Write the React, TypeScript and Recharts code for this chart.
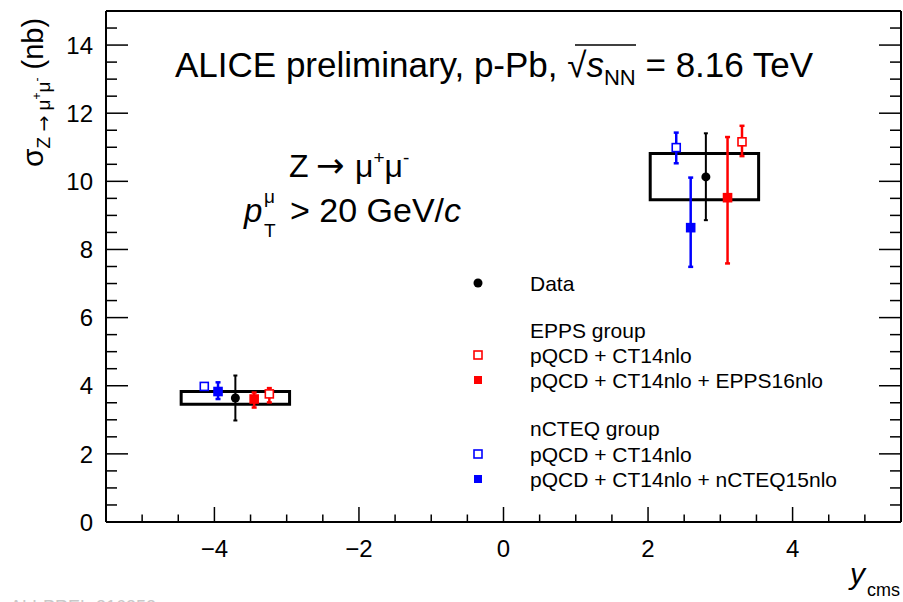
import React from "react";
import { ComposedChart, Scatter, ErrorBar, XAxis, YAxis, ReferenceArea } from "recharts";

const W = 903;
const H = 602;
const FONT = "'Liberation Sans', Arial, Helvetica, sans-serif";
const ARROW_FONT = "'DejaVu Sans', sans-serif";

// rapidity ranges of the two measurements (backward, forward)
const yLow = [-4.46, 2.03];
const yHigh = [-2.96, 3.53];
// systematic uncertainty boxes
const sysLow = [3.46, 9.46];
const sysHigh = [3.83, 10.82];

// measured cross sections
const dataX = [-3.71, 2.8];
const dataVal = [3.64, 10.13];
const dataLo = [2.98, 8.86];
const dataHi = [4.3, 11.41];

// EPPS group: pQCD + CT14nlo
const eppsFreeX = [-3.24, 3.3];
const eppsFreeVal = [3.76, 11.16];
const eppsFreeLo = [3.51, 10.74];
const eppsFreeHi = [3.93, 11.63];

// EPPS group: pQCD + CT14nlo + EPPS16nlo
const epps16X = [-3.45, 3.1];
const epps16Val = [3.61, 9.52];
const epps16Lo = [3.36, 7.59];
const epps16Hi = [3.8, 11.3];

// nCTEQ group: pQCD + CT14nlo
const ncteqFreeX = [-4.14, 2.39];
const ncteqFreeVal = [3.98, 10.99];
const ncteqFreeLo = [3.9, 10.53];
const ncteqFreeHi = [4.06, 11.43];

// nCTEQ group: pQCD + CT14nlo + nCTEQ15nlo
const ncteq15X = [-3.95, 2.59];
const ncteq15Val = [3.83, 8.64];
const ncteq15Lo = [3.61, 7.49];
const ncteq15Hi = [4.1, 10.11];

const xTicks = [-5, -4.5, -4, -3.5, -3, -2.5, -2, -1.5, -1, -0.5, 0, 0.5, 1, 1.5, 2, 2.5, 3, 3.5, 4, 4.5, 5];
const xLabels = [-4, -2, 0, 2, 4];
const yTicks = [0, 0.5, 1, 1.5, 2, 2.5, 3, 3.5, 4, 4.5, 5, 5.5, 6, 6.5, 7, 7.5, 8, 8.5, 9, 9.5, 10, 10.5, 11, 11.5, 12, 12.5, 13, 13.5, 14, 14.5];
const yLabels = [0, 2, 4, 6, 8, 10, 12, 14];

function rows(xs: number[], vals: number[], lo: number[], hi: number[]) {
  return xs.map((x, i) => ({ x, y: vals[i], err: [vals[i] - lo[i], hi[i] - vals[i]] }));
}

const dataRows = rows(dataX, dataVal, dataLo, dataHi);
const eppsFreeRows = rows(eppsFreeX, eppsFreeVal, eppsFreeLo, eppsFreeHi);
const epps16Rows = rows(epps16X, epps16Val, epps16Lo, epps16Hi);
const ncteqFreeRows = rows(ncteqFreeX, ncteqFreeVal, ncteqFreeLo, ncteqFreeHi);
const ncteq15Rows = rows(ncteq15X, ncteq15Val, ncteq15Lo, ncteq15Hi);

const RED = "#ff0000";
const BLUE = "#0000ff";

const fmt = (v: number) => (v < 0 ? `\u2212${Math.abs(v)}` : `${v}`);

function BottomTick({ x, y, payload }: any) {
  const major = xLabels.includes(payload.value);
  return (
    <g>
      <line x1={x} y1={y} x2={x} y2={y - (major ? 15 : 7.5)} stroke="#000" strokeWidth={1.5} />
      {major && (
        <text x={x} y={y + 35} textAnchor="middle" fontSize={24} fontFamily={FONT} fill="#000">
          {fmt(payload.value)}
        </text>
      )}
    </g>
  );
}

function TopTick({ x, y, payload }: any) {
  const major = xLabels.includes(payload.value);
  return <line x1={x} y1={y} x2={x} y2={y + (major ? 15 : 7.5)} stroke="#000" strokeWidth={1.5} />;
}

function LeftTick({ x, y, payload }: any) {
  const major = yLabels.includes(payload.value);
  return (
    <g>
      <line x1={x} y1={y} x2={x + (major ? 22 : 11)} y2={y} stroke="#000" strokeWidth={1.5} />
      {major && (
        <text x={x - 13} y={y} dy="0.36em" textAnchor="end" fontSize={24} fontFamily={FONT} fill="#000">
          {payload.value}
        </text>
      )}
    </g>
  );
}

function RightTick({ x, y, payload }: any) {
  const major = yLabels.includes(payload.value);
  return <line x1={x} y1={y} x2={x - (major ? 22 : 11)} y2={y} stroke="#000" strokeWidth={1.5} />;
}

const square = (color: string, open: boolean) => (p: any) => (
  <rect
    x={p.cx - 4}
    y={p.cy - 4}
    width={8}
    height={8}
    fill={open ? "#fff" : color}
    stroke={color}
    strokeWidth={1.6}
  />
);

const dot = (p: any) => <circle cx={p.cx} cy={p.cy} r={4.5} fill="#000" />;

const legendRows = [
  { label: "Data", marker: "dot", color: "#000", y: 283 },
  { label: "EPPS group", marker: "", color: "", y: 330 },
  { label: "pQCD + CT14nlo", marker: "open", color: RED, y: 355 },
  { label: "pQCD + CT14nlo + EPPS16nlo", marker: "full", color: RED, y: 380 },
  { label: "nCTEQ group", marker: "", color: "", y: 428 },
  { label: "pQCD + CT14nlo", marker: "open", color: BLUE, y: 454 },
  { label: "pQCD + CT14nlo + nCTEQ15nlo", marker: "full", color: BLUE, y: 479 },
];

export default function App() {
  const axisLine = { stroke: "#000", strokeWidth: 2 };
  return (
    <div style={{ position: "absolute", left: 0, top: 0, width: W, height: H, background: "#fff" }}>
      <ComposedChart width={W} height={H} margin={{ top: 10, right: 1, bottom: 79, left: 105 }}>
        <XAxis
          xAxisId="b"
          type="number"
          dataKey="x"
          domain={[-5.5, 5.5]}
          allowDataOverflow
          ticks={xTicks}
          interval={0}
          height={1}
          tickSize={0}
          tickMargin={0}
          tickLine={false}
          axisLine={axisLine}
          tick={(p: any) => <BottomTick {...p} />}
        />
        <XAxis
          xAxisId="t"
          orientation="top"
          type="number"
          domain={[-5.5, 5.5]}
          allowDataOverflow
          ticks={xTicks}
          interval={0}
          height={1}
          tickSize={0}
          tickMargin={0}
          tickLine={false}
          axisLine={axisLine}
          tick={(p: any) => <TopTick {...p} />}
        />
        <YAxis
          yAxisId="l"
          type="number"
          dataKey="y"
          domain={[0, 15]}
          allowDataOverflow
          ticks={yTicks}
          interval={0}
          width={1}
          tickSize={0}
          tickMargin={0}
          tickLine={false}
          axisLine={axisLine}
          tick={(p: any) => <LeftTick {...p} />}
        />
        <YAxis
          yAxisId="r"
          orientation="right"
          type="number"
          domain={[0, 15]}
          allowDataOverflow
          ticks={yTicks}
          interval={0}
          width={1}
          tickSize={0}
          tickMargin={0}
          tickLine={false}
          axisLine={axisLine}
          tick={(p: any) => <RightTick {...p} />}
        />
        {yLow.map((lo, i) => (
          <ReferenceArea
            key={i}
            xAxisId="b"
            yAxisId="l"
            x1={lo}
            x2={yHigh[i]}
            y1={sysLow[i]}
            y2={sysHigh[i]}
            fill="none"
            stroke="#000"
            strokeWidth={3}
            fillOpacity={0}
          />
        ))}
        <Scatter xAxisId="b" yAxisId="l" data={dataRows} shape={dot} isAnimationActive={false}>
          <ErrorBar dataKey="err" direction="y" width={2} stroke="#000" strokeWidth={2} />
        </Scatter>
        <Scatter xAxisId="b" yAxisId="l" data={epps16Rows} shape={square(RED, false)} isAnimationActive={false}>
          <ErrorBar dataKey="err" direction="y" width={2.5} stroke={RED} strokeWidth={2.5} />
        </Scatter>
        <Scatter xAxisId="b" yAxisId="l" data={eppsFreeRows} shape={square(RED, true)} isAnimationActive={false}>
          <ErrorBar dataKey="err" direction="y" width={2.5} stroke={RED} strokeWidth={2.5} />
        </Scatter>
        <Scatter xAxisId="b" yAxisId="l" data={ncteq15Rows} shape={square(BLUE, false)} isAnimationActive={false}>
          <ErrorBar dataKey="err" direction="y" width={2.5} stroke={BLUE} strokeWidth={2.5} />
        </Scatter>
        <Scatter xAxisId="b" yAxisId="l" data={ncteqFreeRows} shape={square(BLUE, true)} isAnimationActive={false}>
          <ErrorBar dataKey="err" direction="y" width={2.5} stroke={BLUE} strokeWidth={2.5} />
        </Scatter>
      </ComposedChart>
      <svg
        width={W}
        height={H}
        style={{ position: "absolute", left: 0, top: 0, pointerEvents: "none" }}
        fontFamily={FONT}
      >
        <text x={175} y={77} fontSize={35} fill="#000">
          ALICE preliminary, p-Pb, {"\u221A"}
          <tspan fontStyle="italic">s</tspan>
          <tspan fontSize={22} dy={8}>NN</tspan>
          <tspan dy={-8}> = 8.16 TeV</tspan>
        </text>
        <line x1={575} y1={45} x2={636} y2={45} stroke="#000" strokeWidth={1.5} />

        <text x={289} y={177} fontSize={32} fill="#000">
          Z
          <tspan x={316} fontFamily={ARROW_FONT} fontSize={34}>{"\u2192"}</tspan>
          <tspan x={355}>{"\u03BC"}</tspan>
          <tspan fontSize={19} dy={-13}>+</tspan>
          <tspan fontSize={32} dy={13}>{"\u03BC"}</tspan>
          <tspan fontSize={19} dy={-13}>-</tspan>
        </text>

        <text x={244} y={222} fontSize={33} fontStyle="italic" fill="#000">p</text>
        <text x={264} y={203} fontSize={19} fill="#000">{"\u03BC"}</text>
        <text x={264} y={237} fontSize={19} fill="#000">T</text>
        <text x={290} y={222} fontSize={34} fill="#000">
          &gt; 20 GeV/<tspan fontStyle="italic">c</tspan>
        </text>

        <text x={43} y={167} transform="rotate(-90, 43, 167)" fontSize={30} fill="#000">
          {"\u03C3"}
          <tspan fontSize={19} dy={7}>Z </tspan>
          <tspan fontSize={19} fontFamily={ARROW_FONT}>{"\u2192"}</tspan>
          <tspan fontSize={19}> {"\u03BC"}</tspan>
          <tspan fontSize={12} dy={-9}>+</tspan>
          <tspan fontSize={19} dy={9}>{"\u03BC"}</tspan>
          <tspan fontSize={12} dy={-9}>-</tspan>
          <tspan fontSize={29} dy={2}> (nb)</tspan>
        </text>

        <text x={850} y={584} fontSize={30} fontStyle="italic" fill="#000">y</text>
        <text x={867} y={596} fontSize={18} fill="#000">cms</text>

        <text x={10} y={613} fontSize={18} fill="#c8c8c8">ALI-PREL-316352</text>

        {legendRows.map((r, i) => (
          <g key={i}>
            {r.marker === "dot" && <circle cx={478} cy={r.y} r={4.5} fill="#000" />}
            {r.marker === "open" && (
              <rect x={474} y={r.y - 4} width={8} height={8} fill="#fff" stroke={r.color} strokeWidth={1.6} />
            )}
            {r.marker === "full" && <rect x={474} y={r.y - 4} width={8} height={8} fill={r.color} />}
            <text x={530} y={r.y + 7.5} fontSize={21} fill="#000">{r.label}</text>
          </g>
        ))}
      </svg>
    </div>
  );
}
